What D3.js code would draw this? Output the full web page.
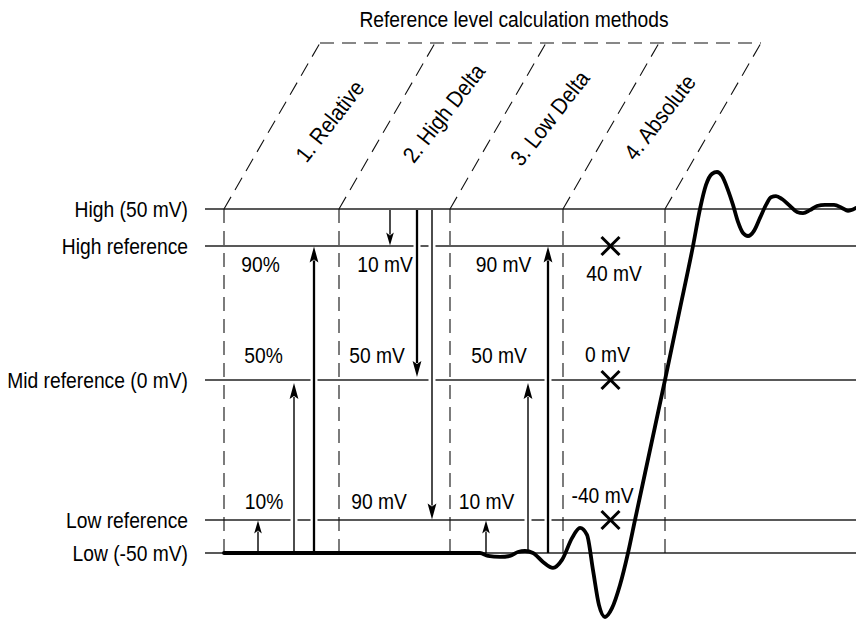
<!DOCTYPE html>
<html><head><meta charset="utf-8">
<script src="https://cdn.jsdelivr.net/npm/d3@7"></script>
<style>
html,body{margin:0;padding:0;background:#fff;}
svg{display:block;}
text{font-family:"Liberation Sans", Arial, Helvetica, sans-serif; fill:#000;}
</style></head><body>
<svg id="chart" width="856" height="620"></svg>
<script>
// ---------------- DATA ----------------
const title = "Reference level calculation methods";
const levelNames = ["High (50 mV)", "High reference", "Mid reference (0 mV)", "Low reference", "Low (-50 mV)"];
const levelValues = [50, 40, 0, -40, -50];           // mV
const methodNames = ["1. Relative", "2. High Delta", "3. Low Delta", "4. Absolute"];
const columnEdgesT = [0, 115, 226, 339, 441];          // time units, column boundaries
// waveform (time units, mV)
const waveT  = [0, 256, 264, 276, 286, 294, 301, 309, 319, 329, 338, 348, 356, 363, 369, 375, 381, 388, 396, 404, 411, 426, 441, 455, 469, 476, 482, 488, 493, 498, 504, 509, 514, 519, 524, 530, 536, 542, 547, 552, 558, 566, 573, 579, 586, 593, 601, 610, 618, 624, 632];
const waveMV = [-50, -50, -50.9, -51.2, -50.9, -49.7, -49.4, -50, -52.7, -54.5, -52.1, -45.5, -42.4, -44.5, -55.2, -65.8, -69.4, -66.7, -59.7, -50, -40, -20, 0, 20, 40, 50, 56.5, 59.5, 60.0, 58.9, 55.1, 51.1, 46.5, 43.5, 42.7, 44.1, 47.6, 51.1, 53.2, 53.5, 52.7, 50.8, 49.2, 48.9, 49.7, 50.8, 51.1, 51.1, 50.3, 49.5, 50.3];
// measurement arrows
const arrowT      = [34, 70, 90, 166, 193, 208, 262, 304, 324];
const arrowFromMV = [-50, -50, -50, 50, 50, 50, -50, -50, -50];
const arrowToMV   = [-40, 0, 40, 40, 0, -40, -40, 0, 40];
// value labels per method column
const relativeLabels  = ["90%", "50%", "10%"];
const highDeltaLabels = ["10 mV", "50 mV", "90 mV"];
const lowDeltaLabels  = ["90 mV", "50 mV", "10 mV"];
const absoluteLabels  = ["40 mV", "0 mV", "-40 mV"];
const absoluteMarksMV = [40, 0, -40];
const absoluteMarkT   = 386.5;

// ---------------- LAYOUT ----------------
const W = 856, H = 620;
const svg = d3.select("#chart");
const x = d3.scaleLinear().domain([0, 632]).range([224, 856]);
const y = d3.scaleLinear().domain([-50, -40, 0, 40, 50]).range([553, 520, 380, 246, 209]);
const topY = 43, slantDX = 96;
const FS = 21.4, SX = 0.9;

function addText(g, str, px, py, anchor, rot, fs) {
  return g.append("text")
    .attr("transform", `translate(${px},${py})` + (rot ? ` rotate(${rot})` : "") + ` scale(${SX},1)`)
    .attr("text-anchor", anchor || "start")
    .attr("font-size", fs || FS)
    .text(str);
}

// horizontal level lines
const gLines = svg.append("g");
gLines.selectAll("line").data(levelValues).join("line")
  .attr("x1", 205).attr("x2", W)
  .attr("y1", d => y(d)).attr("y2", d => y(d))
  .attr("stroke", "#222").attr("stroke-width", 1.3);

// dashed parallelogram columns
const gDash = svg.append("g").attr("fill", "none").attr("stroke", "#111")
  .attr("stroke-width", 1.1).attr("stroke-dasharray", "14,8");
columnEdgesT.forEach(t => {
  const xb = x(t);
  gDash.append("line").attr("x1", xb).attr("x2", xb).attr("y1", y(50)).attr("y2", y(-50));
  gDash.append("line").attr("x1", xb).attr("y1", y(50)).attr("x2", xb + slantDX).attr("y2", topY);
});
gDash.append("line").attr("x1", x(columnEdgesT[0]) + slantDX).attr("x2", x(columnEdgesT[columnEdgesT.length - 1]) + slantDX)
  .attr("y1", topY).attr("y2", topY);

// arrows
const heavy = [false, false, true, false, true, false, false, false, true];
const gArr = svg.append("g");
arrowT.forEach((t, i) => {
  const px = x(t);
  const y0 = y(arrowFromMV[i]);
  let y1 = y(arrowToMV[i]);
  const dir = y1 > y0 ? 1 : -1;       // 1 = downward
  const isMid = arrowToMV[i] === 0;
  y1 = y1 - dir * (isMid ? 3 : 0.5);
  const long = Math.abs(y1 - y0) > 60;
  const L = long ? 16 : 13, hw = long ? 4.4 : 3.8;
  gArr.append("line").attr("x1", px).attr("x2", px)
    .attr("y1", y0 + dir * 5).attr("y2", y1 - dir * 3)
    .attr("stroke", "#fff").attr("stroke-width", 7);
  gArr.append("line").attr("x1", px).attr("x2", px)
    .attr("y1", y0 + dir * (dir > 0 ? 1 : 0)).attr("y2", y1 - dir * (L - 2))
    .attr("stroke", "#000").attr("stroke-width", heavy[i] ? 2.3 : 1.4);
  gArr.append("path")
    .attr("d", `M${px},${y1} L${px - hw},${y1 - dir * L} L${px},${y1 - dir * (L - 3)} L${px + hw},${y1 - dir * L} Z`)
    .attr("fill", "#000");
});

// waveform
const wave = waveT.map((t, i) => [t, waveMV[i]]);
svg.append("path").datum(wave)
  .attr("d", d3.line().x(d => x(d[0])).y(d => y(d[1])).curve(d3.curveMonotoneX))
  .attr("fill", "none").attr("stroke", "#000").attr("stroke-width", 3.8)
  .attr("stroke-linejoin", "round").attr("stroke-linecap", "round");

// absolute-level X markers
const gX = svg.append("g").attr("stroke", "#000").attr("stroke-width", 3);
absoluteMarksMV.forEach(v => {
  const cx = x(absoluteMarkT), cy = y(v), s = 9;
  gX.append("line").attr("x1", cx - s).attr("y1", cy - s).attr("x2", cx + s).attr("y2", cy + s);
  gX.append("line").attr("x1", cx - s).attr("y1", cy + s).attr("x2", cx + s).attr("y2", cy - s);
});

// texts
const gT = svg.append("g");
addText(gT, title, 514, 26.5, "middle");
levelNames.forEach((n, i) => addText(gT, n, 188, y(levelValues[i]) + 7.5, "end"));

// rotated method names
const nameAngle = -52;
const nameMid = [[336, 126], [450, 118], [556, 123], [666, 122]];
methodNames.forEach((n, i) => addText(gT, n, nameMid[i][0], nameMid[i][1], "middle", nameAngle, 22.6));

// value labels (center x in time units, baseline offsets from reference lines)
const rowOffsets = [[40, 26], [0, -17], [-40, -11]];
const cols = [
  {labels: relativeLabels,  cx: [36.5, 39.5, 40]},
  {labels: highDeltaLabels, cx: [161, 153, 155]},
  {labels: lowDeltaLabels,  cx: [279.5, 275, 262.5]},
];
cols.forEach(c => c.labels.forEach((s, r) =>
  addText(gT, s, x(c.cx[r]), y(rowOffsets[r][0]) + rowOffsets[r][1], "middle")));
const absOffsets = [35, -18, -17], absCx = [390, 383.5, 378.5];
absoluteLabels.forEach((s, r) =>
  addText(gT, s, x(absCx[r]), y(absoluteMarksMV[r]) + absOffsets[r], "middle"));
</script>
</body></html>
